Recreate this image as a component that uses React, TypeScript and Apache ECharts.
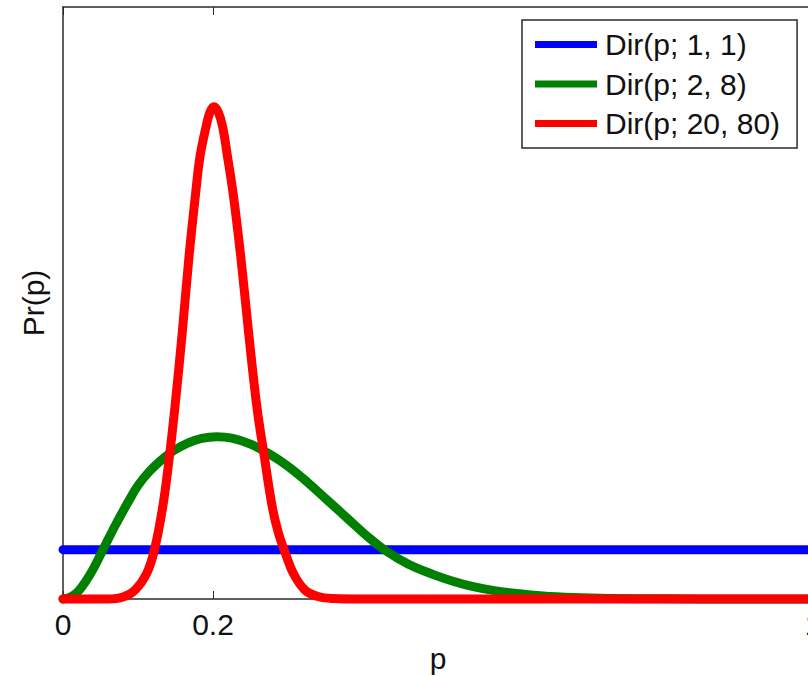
import React, { useEffect, useRef } from "react";
import * as echarts from "echarts";

// x-axis tick positions and labels
const xTicks = [0, 0.2, 1];
const xTickLabels = ["0", "0.2", "1"];

// Series names (legend)
const seriesNames = ["Dir(p; 1, 1)", "Dir(p; 2, 8)", "Dir(p; 20, 80)"];

// Dir(p; 1, 1) — flat density
const blueP = [0, 1];
const blueV = [1, 1];

// Dir(p; 2, 8)
const greenP = [0, 0.01, 0.02, 0.03, 0.04, 0.052, 0.07, 0.087, 0.1, 0.116, 0.136, 0.15, 0.165, 0.185, 0.205, 0.225, 0.25, 0.275, 0.3, 0.325, 0.352, 0.381, 0.405, 0.43, 0.46, 0.493, 0.52, 0.547, 0.575, 0.605, 0.64, 0.68, 0.73, 0.8, 0.9, 1];
const greenV = [0, 0.04, 0.15, 0.35, 0.6, 0.96, 1.5, 1.97, 2.3, 2.6, 2.88, 3.03, 3.15, 3.255, 3.29, 3.26, 3.14, 2.94, 2.69, 2.38, 2.01, 1.61, 1.28, 0.98, 0.71, 0.5, 0.36, 0.25, 0.17, 0.11, 0.06, 0.03, 0.012, 0.003, 0, 0];

// Dir(p; 20, 80)
const redP = [0, 0.06, 0.08, 0.096, 0.1116, 0.1218, 0.133, 0.1418, 0.1493, 0.159, 0.168, 0.1773, 0.1827, 0.1907, 0.196, 0.2013, 0.207, 0.2129, 0.219, 0.227, 0.237, 0.2475, 0.2585, 0.2685, 0.279, 0.287, 0.296, 0.3071, 0.3227, 0.34, 0.36, 0.4, 1];
const redV = [0, 0, 0.04, 0.18, 0.52, 0.99, 1.87, 2.88, 3.9, 5.4, 6.94, 8.29, 8.97, 9.57, 9.87, 9.98, 9.87, 9.57, 9.0, 8.2, 6.94, 5.4, 3.9, 2.88, 1.87, 1.35, 0.95, 0.52, 0.18, 0.05, 0.01, 0, 0];

const yMin = 0;
const yMax = 12;

const FONT = "'Liberation Sans', Arial, Helvetica, sans-serif";
const AXIS_COLOR = "#2a2a2a";

const zip = (xs: number[], ys: number[]) => xs.map((x, i) => [x, ys[i]]);

export default function App() {
  const ref = useRef<HTMLDivElement>(null);

  useEffect(() => {
    if (!ref.current) return;
    const chart = echarts.init(ref.current, null, { renderer: "svg" });

    const axisLine = { show: true, onZero: false, lineStyle: { color: AXIS_COLOR, width: 1.5 } };

    const mkSeries = (name: string, data: number[][], color: string, width: number) => ({
      name,
      type: "line",
      data,
      symbol: "none",
      showSymbol: false,
      smooth: 0.4,
      clip: false,
      lineStyle: { color, width, join: "round", cap: "round" },
      itemStyle: { color },
      emphasis: { disabled: true },
    });

    chart.setOption({
      animation: false,
      backgroundColor: "#ffffff",
      textStyle: { fontFamily: FONT },
      grid: {
        left: 63,
        top: 7,
        width: 750,
        height: 592,
        containLabel: false,
        outerBoundsMode: "none",
      },
      legend: {
        orient: "vertical",
        left: 522,
        top: 20,
        data: seriesNames,
        icon: "rect",
        itemWidth: 62,
        itemHeight: 7,
        itemGap: 5.4,
        padding: [7.6, 17, 7.6, 13],
        borderColor: AXIS_COLOR,
        borderWidth: 1.5,
        backgroundColor: "#ffffff",
        selectedMode: false,
        textStyle: {
          fontFamily: FONT,
          fontSize: 30,
          color: "#111",
          lineHeight: 34,
          padding: [0, 0, 0, 3],
        },
      },
      xAxis: [
        {
          type: "value",
          position: "bottom",
          min: 0,
          max: 1,
          axisLine,
          splitLine: { show: false },
          axisTick: {
            show: true,
            inside: true,
            length: 8,
            customValues: xTicks,
            lineStyle: { color: AXIS_COLOR, width: 1 },
          },
          axisLabel: {
            show: true,
            customValues: xTicks,
            margin: 10,
            fontSize: 30,
            fontFamily: FONT,
            color: "#111",
            formatter: (v: number) => {
              const i = xTicks.findIndex((t) => Math.abs(t - v) < 1e-9);
              return i >= 0 ? xTickLabels[i] : "";
            },
          },
          name: "p",
          nameLocation: "middle",
          nameGap: 40,
          nameTextStyle: { fontSize: 30, fontFamily: FONT, color: "#111" },
        },
        {
          type: "value",
          position: "top",
          min: 0,
          max: 1,
          axisLine,
          splitLine: { show: false },
          axisTick: {
            show: true,
            inside: true,
            length: 8,
            customValues: xTicks,
            lineStyle: { color: AXIS_COLOR, width: 1 },
          },
          axisLabel: { show: false },
        },
      ],
      yAxis: [
        {
          type: "value",
          position: "left",
          min: yMin,
          max: yMax,
          axisLine,
          axisTick: { show: false },
          axisLabel: { show: false },
          splitLine: { show: false },
          name: "Pr(p)",
          nameLocation: "middle",
          nameGap: 15,
          nameTextStyle: { fontSize: 30, fontFamily: FONT, color: "#111" },
        },
        {
          type: "value",
          position: "right",
          min: yMin,
          max: yMax,
          axisLine,
          axisTick: { show: false },
          axisLabel: { show: false },
          splitLine: { show: false },
        },
      ],
      series: [
        mkSeries(seriesNames[0], zip(blueP, blueV), "#0000ff", 9),
        mkSeries(seriesNames[1], zip(greenP, greenV), "#008000", 9),
        mkSeries(seriesNames[2], zip(redP, redV), "#ff0000", 9),
      ],
    });

    return () => chart.dispose();
  }, []);

  return (
    <div
      ref={ref}
      style={{ position: "absolute", left: 0, top: 0, width: 808, height: 676, background: "#fff" }}
    />
  );
}
